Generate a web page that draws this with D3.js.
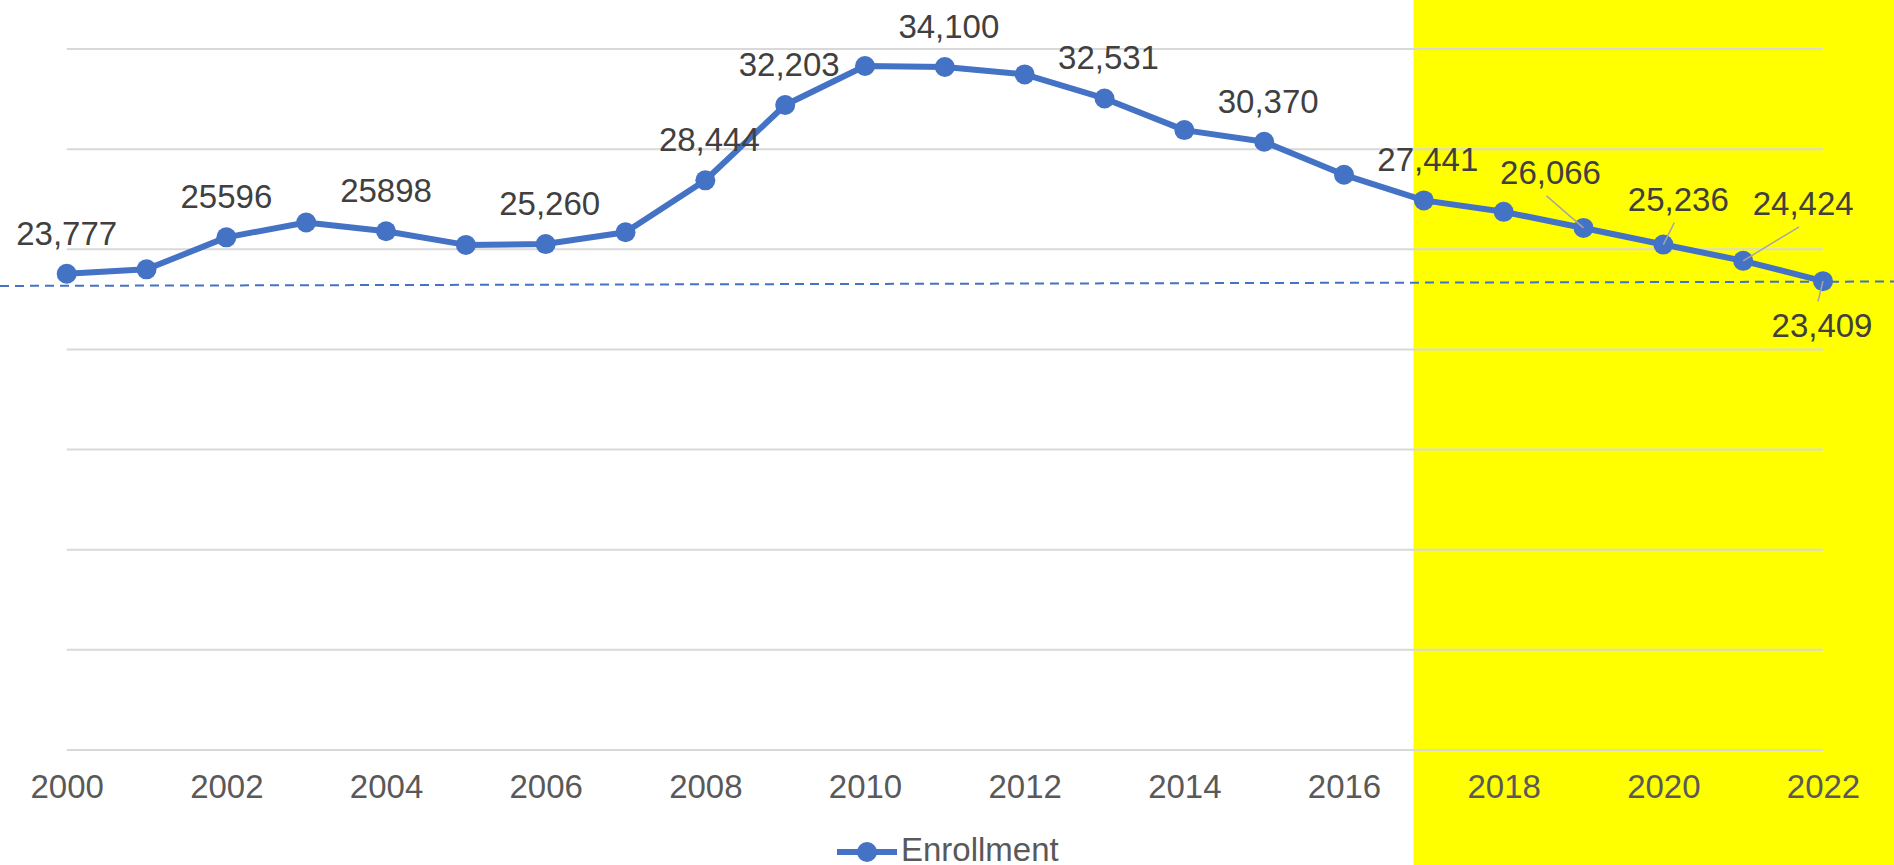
<!DOCTYPE html>
<html>
<head>
<meta charset="utf-8">
<script src="https://cdn.jsdelivr.net/npm/d3@7"></script>
<style>
  body { margin: 0; background: #fff; }
  svg { display: block; font-family: "Liberation Sans", Arial, sans-serif; }
</style>
</head>
<body>
<div id="chart"></div>
<script>
const WIDTH = 1894;
const HEIGHT = 865;

// Data
const years = d3.range(2000, 2023);
const enrollment = [
  23777, 24000, 25596, 26340, 25898, 25220, 25260, 25850, 28444, 32203, 34150, 34100,
  33730, 32531, 30950, 30370, 28720, 27441, 26870, 26066, 25236, 24424, 23409
];
const labelYears = [2000, 2002, 2004, 2006, 2008, 2009, 2011, 2013, 2015, 2017, 2019, 2020, 2021, 2022];
const labelTexts = ['23,777', '25596', '25898', '25,260', '28,444', '32,203', '34,100', '32,531',
  '30,370', '27,441', '26,066', '25,236', '24,424', '23,409'];
const axisYears = d3.range(2000, 2023, 2);
const gridValues = d3.range(0, 35001, 5000);
const highlightFrom = 2016.87;        // yellow band starts here and runs off the right edge
const refLine = [23170, 23390];        // dashed reference line, left edge / right edge values
const seriesName = 'Enrollment';

// label placement (relative to the point), leader lines where Excel moved a label
const labelOffsets = {
  2000: { dx: 0, dy: -29 },
  2002: { dx: 0, dy: -29 },
  2004: { dx: 0, dy: -29 },
  2019: { dx: -33, dy: -44, leader: true },
  2020: { dx: 15, dy: -34, leader: true },
  2021: { dx: 60, dy: -46, leader: true },
  2022: { dx: -1, dy: 56, leader: true, below: true }
};
const defaultOffset = { dx: 4, dy: -29 };

const BLUE = '#4472C4';
const FONT_SIZE = 33;

const x = d3.scaleLinear().domain([2000, 2022]).range([66.7, 1823]);
const y = d3.scaleLinear().domain([0, 35000]).range([750, 49]);

const svg = d3.select('#chart')
  .append('svg')
  .attr('width', WIDTH)
  .attr('height', HEIGHT);

// Highlight band
svg.append('rect')
  .attr('x', x(highlightFrom))
  .attr('y', 0)
  .attr('width', WIDTH - x(highlightFrom))
  .attr('height', HEIGHT)
  .attr('fill', '#FFFF00');

// Gridlines
svg.append('g')
  .selectAll('line')
  .data(gridValues)
  .enter()
  .append('line')
  .attr('x1', x(2000))
  .attr('x2', x(2022))
  .attr('y1', d => y(d))
  .attr('y2', d => y(d))
  .attr('stroke', '#D9D9D9')
  .attr('stroke-width', 2);

// Dashed reference line
svg.append('line')
  .attr('x1', 0)
  .attr('x2', WIDTH)
  .attr('y1', y(refLine[0]))
  .attr('y2', y(refLine[1]))
  .attr('stroke', BLUE)
  .attr('stroke-width', 2)
  .attr('stroke-dasharray', '9 6');

// Series
const points = years.map((yr, i) => ({ year: yr, value: enrollment[i] }));

svg.append('path')
  .datum(points)
  .attr('fill', 'none')
  .attr('stroke', BLUE)
  .attr('stroke-width', 6)
  .attr('stroke-linejoin', 'round')
  .attr('d', d3.line().x(d => x(d.year)).y(d => y(d.value)));

svg.append('g')
  .selectAll('circle')
  .data(points)
  .enter()
  .append('circle')
  .attr('cx', d => x(d.year))
  .attr('cy', d => y(d.value))
  .attr('r', 10)
  .attr('fill', BLUE);

// Data labels
const labels = labelYears.map((yr, i) => {
  const p = points.find(d => d.year === yr);
  const off = labelOffsets[yr] || defaultOffset;
  return {
    text: labelTexts[i],
    px: x(yr),
    py: y(p.value),
    lx: x(yr) + off.dx,
    ly: y(p.value) + off.dy,
    leader: !!off.leader,
    below: !!off.below
  };
});

svg.append('g')
  .selectAll('line')
  .data(labels.filter(d => d.leader))
  .enter()
  .append('line')
  .attr('x1', d => d.lx - 4)
  .attr('y1', d => d.below ? d.ly - FONT_SIZE * 0.716 - 12 : d.ly + 12)
  .attr('x2', d => d.px)
  .attr('y2', d => d.py)
  .attr('stroke', '#A6A6A6')
  .attr('stroke-width', 1.5);

svg.append('g')
  .selectAll('text')
  .data(labels)
  .enter()
  .append('text')
  .attr('x', d => d.lx)
  .attr('y', d => d.ly)
  .attr('text-anchor', 'middle')
  .style('font-size', `${FONT_SIZE}px`)
  .style('fill', '#404040')
  .text(d => d.text);

// X axis
const xAxis = d3.axisBottom(x)
  .tickValues(axisYears)
  .tickFormat(d3.format('d'))
  .tickSize(0)
  .tickPadding(24.6);

const axisG = svg.append('g')
  .attr('transform', `translate(0,${y(0)})`)
  .call(xAxis);
axisG.select('.domain').remove();
axisG.selectAll('text')
  .style('font-size', `${FONT_SIZE}px`)
  .style('font-family', '"Liberation Sans", Arial, sans-serif')
  .style('fill', '#595959');

// Legend
const legend = svg.append('g').attr('transform', 'translate(837,852)');
legend.append('line')
  .attr('x1', 0).attr('x2', 60)
  .attr('stroke', BLUE)
  .attr('stroke-width', 6);
legend.append('circle')
  .attr('cx', 30).attr('r', 10)
  .attr('fill', BLUE);
legend.append('text')
  .attr('x', 64)
  .attr('y', 9)
  .style('font-size', `${FONT_SIZE}px`)
  .style('fill', '#595959')
  .text(seriesName);
</script>
</body>
</html>
